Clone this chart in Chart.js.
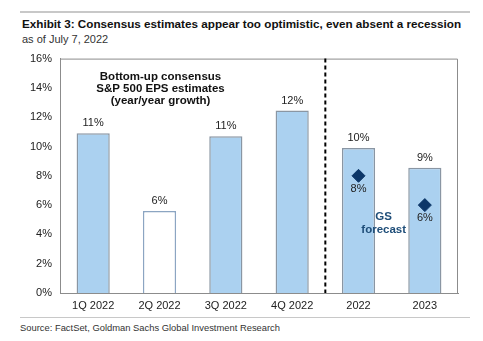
<!DOCTYPE html>
<html>
<head>
<meta charset="utf-8">
<script src="https://cdn.jsdelivr.net/npm/chart.js@4"></script>
<style>
  body { margin: 0; width: 483px; height: 341px; background: #fff; font-family: "Liberation Sans", Arial, sans-serif; position: relative; overflow: hidden; }
  .rule { position: absolute; left: 20px; width: 450px; height: 2px; background: #c8c8c8; }
  #title { position: absolute; left: 22px; top: 17px; font-size: 11.7px; font-weight: bold; color: #111; white-space: nowrap; }
  #sub { position: absolute; left: 22px; top: 33px; font-size: 11px; color: #333; }
  #src { position: absolute; left: 20px; top: 322px; font-size: 9.4px; color: #333; }
  #wrap { position: absolute; left: 0; top: 44px; width: 483px; height: 271px; }
</style>
</head>
<body>
<div class="rule" style="top:11px"></div>
<div id="title">Exhibit 3: Consensus estimates appear too optimistic, even absent a recession</div>
<div id="sub">as of July 7, 2022</div>
<div id="wrap"><canvas id="c"></canvas></div>
<div class="rule" style="top:317px;height:1px"></div>
<div id="src">Source: FactSet, Goldman Sachs Global Investment Research</div>
<script>
const categories = ['1Q 2022', '2Q 2022', '3Q 2022', '4Q 2022', '2022', '2023'];
const consensus = [10.9, 5.6, 10.7, 12.45, 9.9, 8.55];
const gsForecast = [null, null, null, null, 8.0, 6.0];
const yTicks = [0, 2, 4, 6, 8, 10, 12, 14, 16];

const barFill = consensus.map((v, i) => i === 1 ? '#ffffff' : '#abd1f0');
const barBorder = consensus.map((v, i) => i === 1 ? '#8ca5c2' : '#8a96a3');

const extras = {
  id: 'extras',
  afterDatasetsDraw(chart) {
    const ctx = chart.ctx;
    const a = chart.chartArea;
    const x = chart.scales.x;
    const y = chart.scales.y;
    ctx.save();
    // frame top + right
    ctx.strokeStyle = '#8c8c8c';
    ctx.lineWidth = 1;
    ctx.beginPath();
    ctx.moveTo(a.left, a.top + 0.5);
    ctx.lineTo(a.right - 0.5, a.top + 0.5);
    ctx.lineTo(a.right - 0.5, a.bottom);
    ctx.stroke();
    // dashed divider
    const dx = (x.getPixelForValue(3) + x.getPixelForValue(4)) / 2;
    ctx.strokeStyle = '#000';
    ctx.lineWidth = 2;
    ctx.setLineDash([4, 3]);
    ctx.beginPath();
    ctx.moveTo(dx, a.top);
    ctx.lineTo(dx, a.bottom);
    ctx.stroke();
    ctx.setLineDash([]);
    // bar labels
    ctx.fillStyle = '#222';
    ctx.font = '11px "Liberation Sans", Arial, sans-serif';
    ctx.textAlign = 'center';
    ctx.textBaseline = 'middle';
    consensus.forEach((v, i) => {
      ctx.fillText(Math.round(v) + '%', x.getPixelForValue(i), y.getPixelForValue(v) - 10);
    });
    gsForecast.forEach((v, i) => {
      if (v == null) return;
      ctx.fillText(Math.round(v) + '%', x.getPixelForValue(i), y.getPixelForValue(v) + 13);
    });
    // annotations
    ctx.font = 'bold 11.5px "Liberation Sans", Arial, sans-serif';
    ctx.fillStyle = '#111';
    const ax = (x.getPixelForValue(0) + x.getPixelForValue(2)) / 2 + 1;
    ctx.fillText('Bottom-up consensus', ax, y.getPixelForValue(14.75));
    ctx.fillText('S&P 500 EPS estimates', ax, y.getPixelForValue(13.95));
    ctx.fillText('(year/year growth)', ax, y.getPixelForValue(13.1));
    ctx.fillStyle = '#1f4e79';
    const gx = (x.getPixelForValue(4) + x.getPixelForValue(5)) / 2 - 8;
    ctx.fillText('GS', gx, y.getPixelForValue(5.2));
    ctx.fillText('forecast', gx, y.getPixelForValue(4.3));
    ctx.restore();
  }
};

new Chart(document.getElementById('c'), {
  type: 'bar',
  data: {
    labels: categories,
    datasets: [{
      type: 'line',
      label: 'GS forecast',
      data: gsForecast,
      showLine: false,
      pointStyle: 'rectRot',
      pointRadius: 6.5,
      pointBackgroundColor: '#0c3668',
      pointBorderColor: '#0c3668',
      order: 0
    }, {
      label: 'Consensus',
      data: consensus,
      backgroundColor: barFill,
      borderColor: barBorder,
      borderWidth: 1.5,
      barPercentage: 0.5,
      categoryPercentage: 1,
      order: 1
    }]
  },
  options: {
    responsive: true,
    maintainAspectRatio: false,
    animation: false,
    layout: { padding: { top: 4, right: 25, left: 0, bottom: 0 } },
    plugins: { legend: { display: false }, tooltip: { enabled: false } },
    scales: {
      x: {
        grid: { display: false, drawTicks: false },
        border: { color: '#8c8c8c' },
        ticks: { color: '#222', font: { size: 11, family: '"Liberation Sans", Arial' }, padding: 6 },
        afterFit(s) { s.height = 22; }
      },
      y: {
        min: 0, max: 16,
        afterBuildTicks(s) { s.ticks = yTicks.map(v => ({ value: v })); },
        grid: { display: false, drawTicks: false },
        border: { color: '#8c8c8c' },
        ticks: { color: '#222', font: { size: 11, family: '"Liberation Sans", Arial' }, padding: 8, callback: v => v + '%' },
        afterFit(s) { s.width = 60; }
      }
    }
  },
  plugins: [extras]
});
</script>
</body>
</html>
